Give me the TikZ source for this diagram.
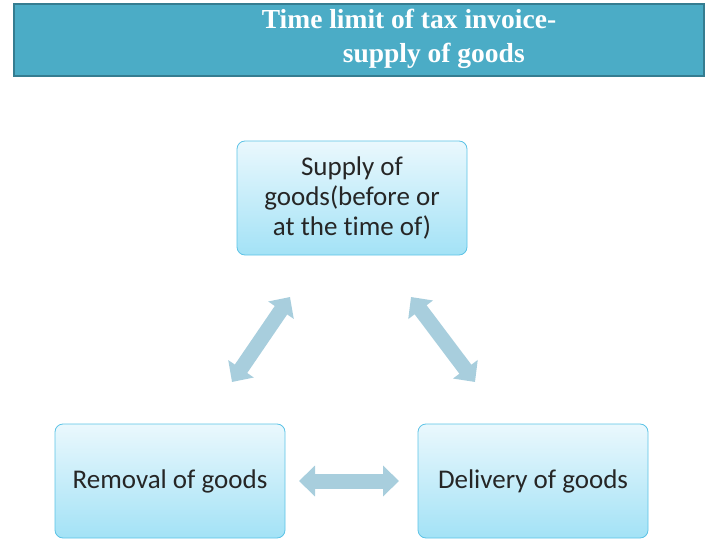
\documentclass[tikz,border=0pt]{standalone}
\usepackage{fontspec}
\setmainfont[RawFeature=-liga]{Carlito}
\newfontfamily\titlefont{Liberation Serif}
\usetikzlibrary{arrows.meta}
\definecolor{hdr}{HTML}{4BACC6}
\definecolor{hdrb}{HTML}{357D91}
\definecolor{boxtop}{HTML}{EAF8FD}
\definecolor{boxbot}{HTML}{A3E2F6}
\definecolor{boxb}{HTML}{5CC3E6}
\definecolor{arr}{HTML}{A8CEDD}
\tikzset{
  gbox/.style={draw=boxb, line width=0.8pt, rounded corners=8pt, top color=boxtop, bottom color=boxbot,
    minimum width=230pt, minimum height=114pt, align=center, font=\fontsize{27}{30}\selectfont, text=black!85},
  darr/.style={draw=arr, line width=15pt, {Triangle[width=30pt,length=16pt]}-{Triangle[width=30pt,length=16pt]}}
}
\begin{document}
\begin{tikzpicture}[x=1pt,y=-1pt]
\useasboundingbox (0,0) rectangle (720,540);
\node[draw=hdrb, line width=2pt, fill=hdr, minimum width=690pt, minimum height=72pt, anchor=north west] (hdr) at (13,3) {};
\node[text=white, font=\titlefont\bfseries\fontsize{27.5}{34}\selectfont, align=left] (title) at (409,39)
  {Time limit of tax invoice-\\\hspace*{81pt}supply of goods};
\node[gbox] (top) at (352,198) {Supply of\\goods(before or\\at the time of)};
\node[gbox] (left) at (170,481) {Removal of goods};
\node[gbox] (right) at (533,481) {Delivery of goods};
\coordinate (a1) at (290,297); \coordinate (a2) at (232,382);
\coordinate (b1) at (411,297); \coordinate (b2) at (475,382);
\coordinate (c1) at (299,481); \coordinate (c2) at (399,481);
\draw[darr] (a1) -- (a2);
\draw[darr] (b1) -- (b2);
\draw[darr] (c1) -- (c2);
\end{tikzpicture}
\end{document}
